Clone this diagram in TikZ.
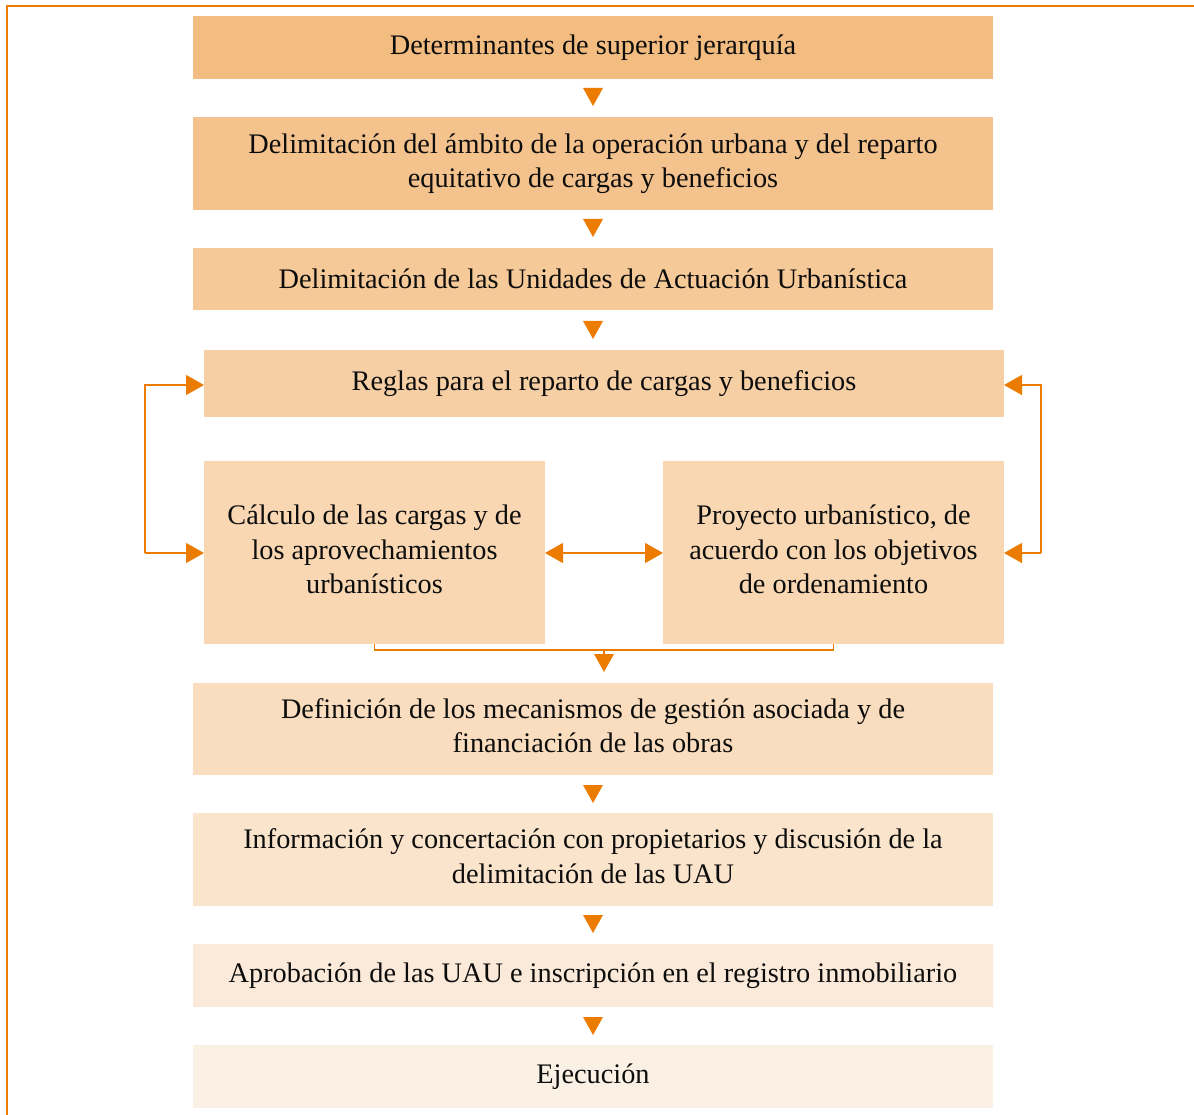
\documentclass[tikz,border=0pt]{standalone}
\usepackage{fontspec}
\setmainfont{Liberation Serif}
\usetikzlibrary{arrows.meta,calc}
\definecolor{org}{RGB}{236,124,0}
\definecolor{c1}{RGB}{243,188,128}
\definecolor{c2}{RGB}{244,194,140}
\definecolor{c3}{RGB}{245,201,152}
\definecolor{c4}{RGB}{246,207,164}
\definecolor{c5}{RGB}{248,215,178}
\definecolor{c6}{RGB}{249,221,190}
\definecolor{c7}{RGB}{250,228,204}
\definecolor{c8}{RGB}{251,234,217}
\definecolor{c9}{RGB}{251,240,228}
\tikzset{
  box/.style={inner sep=0pt, align=center, text=black!95, font=\fontsize{28.3}{34.5}\selectfont},
  link/.style={draw=org, line width=1.3pt},
  tip/.style={-{Triangle[length=18pt,width=20pt,fill=org]}},
  tips/.style={{Triangle[length=18pt,width=20pt,fill=org]}-{Triangle[length=18pt,width=20pt,fill=org]}},
}
\newcommand{\downtri}[1]{\fill[org] ($#1+(-10,-9)$) -- ++(20,0) -- ++(-10,18) -- cycle;}
\begin{document}
\begin{tikzpicture}[x=1pt,y=-1pt]
\useasboundingbox (0,0) rectangle (1194,1115);
\draw[org, line width=2pt] (1194,6) -- (7,6) -- (7,1115);
% boxes
\fill[c1] (193,16) rectangle (993,79);
\node[box] (b1) at (593,47.5) {Determinantes de superior jerarquía};
\fill[c2] (193,117) rectangle (993,210);
\node[box] (b2) at (593,163.5) {Delimitación del ámbito de la operación urbana y del reparto\\equitativo de cargas y beneficios};
\fill[c3] (193,248) rectangle (993,310);
\node[box] (b3) at (593,279) {Delimitación de las Unidades de Actuación Urbanística};
\fill[c4] (204,350) rectangle (1004,417);
\node[box] (b4) at (604,383.5) {Reglas para el reparto de cargas y beneficios};
\fill[c5] (204,461) rectangle (545,644);
\node[box] (b5) at (374.5,549.5) {Cálculo de las cargas y de\\los aprovechamientos\\urbanísticos};
\fill[c5] (663,461) rectangle (1004,644);
\node[box] (b6) at (833.5,549.5) {Proyecto urbanístico, de\\acuerdo con los objetivos\\de ordenamiento};
\fill[c6] (193,683) rectangle (993,775);
\node[box] (b7) at (593,725.5) {Definición de los mecanismos de gestión asociada y de\\financiación de las obras};
\fill[c7] (193,813) rectangle (993,906);
\node[box] (b8) at (593,856) {Información y concertación con propietarios y discusión de la\\delimitación de las UAU};
\fill[c8] (193,944) rectangle (993,1007);
\node[box] (b9) at (593,975.5) {Aprobación de las UAU e inscripción en el registro inmobiliario};
\fill[c9] (193,1045) rectangle (993,1108);
\node[box] (b10) at (593,1076.5) {Ejecución};
% named points on box edges
\coordinate (r4w) at (204,385); \coordinate (r4e) at (1004,385);
\coordinate (r5w) at (204,553); \coordinate (r5e) at (545,553);
\coordinate (r6w) at (663,553); \coordinate (r6e) at (1004,553);
\coordinate (r5s) at (374.5,644); \coordinate (r6s) at (833.5,644);
\coordinate (lx) at (145,553); \coordinate (rx) at (1041,553);
% down triangles
\downtri{(593,97)}
\downtri{(593,228)}
\downtri{(593,330)}
\downtri{(604,663)}
\downtri{(593,794)}
\downtri{(593,924)}
\downtri{(593,1026)}
% side loops
\draw[link,tip] (lx) |- (r4w);
\draw[link,tip] (lx) -- (r5w);
\draw[link,tip] (rx) |- (r4e);
\draw[link,tip] (rx) -- (r6e);
\draw[link,tips] (r5e) -- (r6w);
% bracket
\draw[link] (r5s) -- (374.5,650) -- (833.5,650) -- (r6s);
\draw[link] (604,650) -- (604,655);
\end{tikzpicture}
\end{document}
